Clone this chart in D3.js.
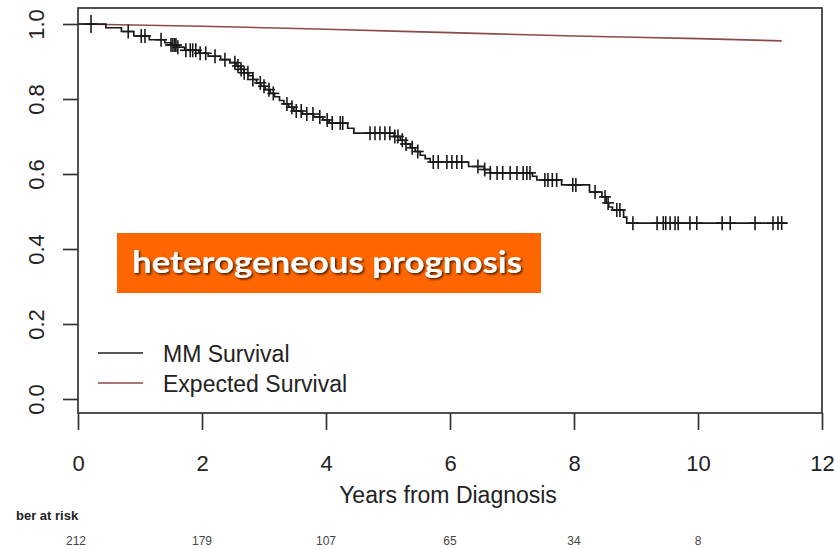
<!DOCTYPE html>
<html>
<head>
<meta charset="utf-8">
<script src="https://cdn.jsdelivr.net/npm/d3@7"></script>
<style>
  html, body { margin: 0; padding: 0; background: #fff; }
  svg { display: block; }
</style>
</head>
<body>
<svg id="chart" width="840" height="549"></svg>
<script>
// Kaplan-Meier steps for MM survival: [years, survival after the drop]
const kmTimes = [0.45, 0.70, 0.90, 1.15, 1.40, 1.50, 1.60, 1.72, 1.95, 2.10, 2.30, 2.45, 2.55, 2.62, 2.68, 2.75,
  2.82, 2.88, 2.95, 3.02, 3.10, 3.17, 3.25, 3.32, 3.40, 3.48, 3.62, 3.80, 3.95, 4.05, 4.35, 4.45,
  5.10, 5.20, 5.28, 5.36, 5.44, 5.52, 5.60, 5.68, 6.30, 6.55, 6.65, 7.33, 7.40, 7.80, 8.25, 8.45,
  8.52, 8.56, 8.62, 8.80, 8.85];
const kmSurv = [0.990, 0.980, 0.968, 0.958, 0.950, 0.944, 0.938, 0.930, 0.922, 0.914, 0.905, 0.897, 0.888, 0.879, 0.870, 0.862,
  0.852, 0.843, 0.834, 0.825, 0.815, 0.806, 0.796, 0.787, 0.778, 0.768, 0.760, 0.752, 0.744, 0.736, 0.722, 0.709,
  0.700, 0.690, 0.680, 0.670, 0.660, 0.650, 0.641, 0.632, 0.620, 0.612, 0.603, 0.594, 0.584, 0.571, 0.552, 0.539,
  0.523, 0.512, 0.504, 0.485, 0.469];
const kmEnd = 11.44;

// Censored observations (years)
const censorTimes = [0.21, 0.81, 1.02, 1.08, 1.34, 1.50, 1.53, 1.56, 1.58, 1.61, 1.74, 1.81, 1.85, 1.90, 1.97, 2.06,
  2.21, 2.37, 2.53, 2.58, 2.63, 2.68, 2.74, 2.82, 2.94, 3.00, 3.08, 3.15, 3.37, 3.45, 3.52, 3.60, 3.69,
  3.79, 3.90, 4.02, 4.10, 4.23, 4.27, 4.71, 4.79, 4.87, 4.95, 5.03, 5.11, 5.16, 5.23, 5.29, 5.39, 5.48,
  5.73, 5.81, 5.95, 6.03, 6.11, 6.19, 6.45, 6.56, 6.65, 6.76, 6.85, 6.97, 7.08, 7.18, 7.24, 7.29,
  7.53, 7.58, 7.65, 7.72, 7.98, 8.03, 8.34, 8.50, 8.55, 8.69, 8.74, 8.95, 9.34, 9.44, 9.48, 9.55,
  9.63, 9.68, 9.87, 9.98, 10.39, 10.52, 10.92, 11.21, 11.29, 11.35];

// Expected (population) survival
const expTimes = [0, 2, 4, 6, 8, 10, 11.35];
const expSurv = [1.000, 0.994, 0.986, 0.977, 0.968, 0.961, 0.955];

// Axes and risk table
const xTicks = [0, 2, 4, 6, 8, 10, 12];
const yTicks = [0.0, 0.2, 0.4, 0.6, 0.8, 1.0];
const riskTimes = [0, 2, 4, 6, 8, 10];
const riskCounts = [212, 179, 107, 65, 34, 8];
const legendLabels = ["MM Survival", "Expected Survival"];
const legendColors = ["#222222", "#8d4a48"];

const svg = d3.select("#chart");
const font = "'Liberation Sans', Arial, sans-serif";

const x = d3.scaleLinear().domain([0, 12]).range([78, 822]);
const y = d3.scaleLinear().domain([0, 1]).range([399, 24]);
const boxTop = 8, boxBottom = 413;

// plot frame
svg.append("rect")
  .attr("x", x(0)).attr("y", boxTop)
  .attr("width", x(12) - x(0)).attr("height", boxBottom - boxTop)
  .attr("fill", "none").attr("stroke", "#333").attr("stroke-width", 1.7);

// x axis
const xAxis = d3.axisBottom(x).tickValues(xTicks).tickFormat(d3.format("d")).tickSize(17).tickPadding(25);
const gx = svg.append("g").attr("transform", `translate(0,${boxBottom})`).call(xAxis);
gx.select(".domain").remove();
gx.selectAll(".tick line").attr("stroke", "#333").attr("stroke-width", 1.7);
gx.selectAll(".tick text").attr("font-family", font).attr("font-size", 22).attr("fill", "#222");

// y axis with rotated labels
const yAxis = d3.axisLeft(y).tickValues(yTicks).tickFormat(d3.format(".1f")).tickSize(15).tickPadding(0);
const gy = svg.append("g").attr("transform", `translate(${x(0)},0)`).call(yAxis);
gy.select(".domain").remove();
gy.selectAll(".tick line").attr("stroke", "#333").attr("stroke-width", 1.7);
gy.selectAll(".tick text")
  .attr("font-family", font).attr("font-size", 22).attr("fill", "#222")
  .attr("x", null).attr("dy", null)
  .attr("text-anchor", "middle")
  .attr("transform", "translate(-34,0) rotate(-90)");

// axis title
svg.append("text")
  .attr("x", 448).attr("y", 503)
  .attr("text-anchor", "middle")
  .attr("font-family", font).attr("font-size", 23).attr("fill", "#222")
  .text("Years from Diagnosis");

// expected survival curve
svg.append("path")
  .datum(expTimes.map((t, i) => [t, expSurv[i]]))
  .attr("d", d3.line().x(d => x(d[0])).y(d => y(d[1])).curve(d3.curveMonotoneX))
  .attr("fill", "none").attr("stroke", legendColors[1]).attr("stroke-width", 1.6);

// KM step curve
const kmPts = [[0, 1]].concat(kmTimes.map((t, i) => [t, kmSurv[i]]));
kmPts.push([kmEnd, kmSurv[kmSurv.length - 1]]);
svg.append("path")
  .datum(kmPts)
  .attr("d", d3.line().x(d => x(d[0])).y(d => y(d[1])).curve(d3.curveStepAfter))
  .attr("fill", "none").attr("stroke", "#1a1a1a").attr("stroke-width", 1.7);

// survival at a given time from the step function
function survAt(t) {
  let s = 1;
  for (let i = 0; i < kmTimes.length; i++) { if (kmTimes[i] <= t) s = kmSurv[i]; else break; }
  return s;
}

// censor marks (+)
const cg = svg.append("g").attr("stroke", "#1a1a1a").attr("stroke-width", 1.6);
censorTimes.forEach((t, i) => {
  const cx = x(t), cy = y(survAt(t));
  const h = i === 0 ? 9 : 7;
  cg.append("line").attr("x1", cx).attr("x2", cx).attr("y1", cy - h).attr("y2", cy + h);
  cg.append("line").attr("x1", cx - 6).attr("x2", cx + 6).attr("y1", cy).attr("y2", cy);
});

// legend
const legY = [353, 383];
legendLabels.forEach((lab, i) => {
  svg.append("line")
    .attr("x1", 98).attr("x2", 143).attr("y1", legY[i]).attr("y2", legY[i])
    .attr("stroke", legendColors[i]).attr("stroke-width", 1.6);
  svg.append("text")
    .attr("x", 163).attr("y", legY[i] + 9)
    .attr("font-family", font).attr("font-size", 23).attr("fill", "#222")
    .text(lab);
});

// annotation banner
const defs = svg.append("defs");
const f = defs.append("filter").attr("id", "shadow").attr("x", "-5%").attr("y", "-20%").attr("width", "110%").attr("height", "140%");
f.append("feDropShadow").attr("dx", 1.5).attr("dy", 1.5).attr("stdDeviation", 1)
  .attr("flood-color", "#000").attr("flood-opacity", 0.75);

svg.append("rect")
  .attr("x", 117).attr("y", 233).attr("width", 424).attr("height", 60)
  .attr("fill", "#ff6600");
svg.append("text")
  .attr("x", 132).attr("y", 273)
  .attr("font-family", "Lato, 'Open Sans', sans-serif").attr("font-weight", "bold")
  .attr("font-size", 31).attr("fill", "#fff")
  .attr("textLength", 390).attr("lengthAdjust", "spacingAndGlyphs")
  .attr("filter", "url(#shadow)")
  .text("heterogeneous prognosis");

// number at risk table
svg.append("text")
  .attr("x", 16).attr("y", 520)
  .attr("font-family", font).attr("font-weight", "bold").attr("font-size", 13).attr("fill", "#222")
  .text("ber at risk");
svg.append("g").selectAll("text")
  .data(riskTimes)
  .join("text")
  .attr("x", d => x(d) - (d === 0 ? 2 : 0)).attr("y", 545)
  .attr("text-anchor", "middle")
  .attr("font-family", font).attr("font-size", 12).attr("fill", "#444")
  .text((d, i) => riskCounts[i]);
</script>
</body>
</html>
